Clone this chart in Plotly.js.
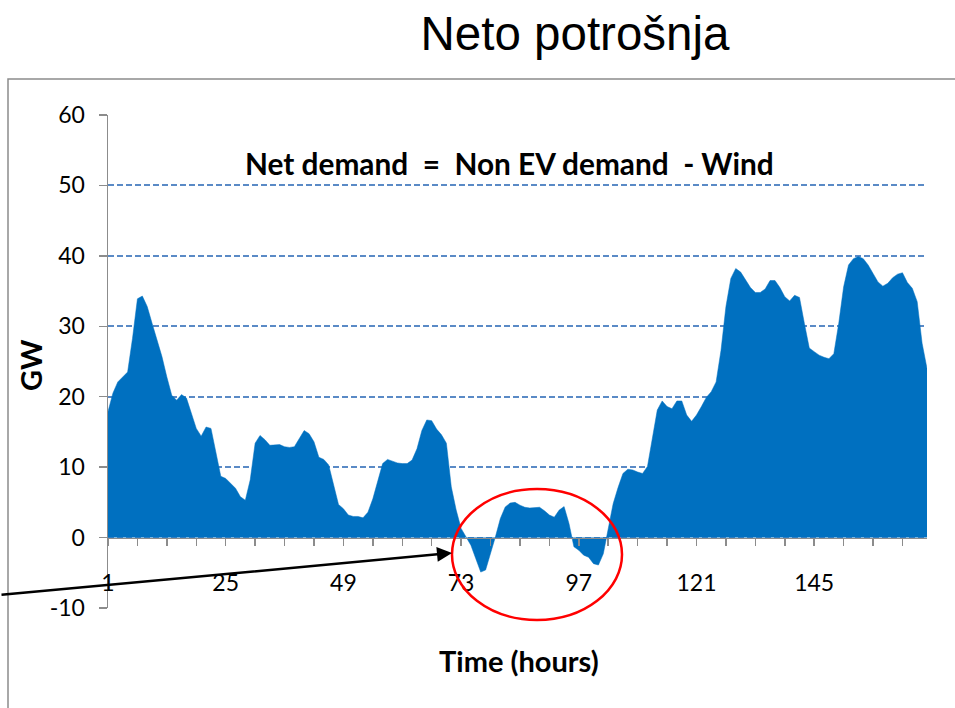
<!DOCTYPE html>
<html>
<head>
<meta charset="utf-8">
<script src="https://cdn.plot.ly/plotly-3.0.1.min.js"></script>
<style>
  html, body { margin: 0; padding: 0; background: #fff; }
  #chart { width: 955px; height: 708px; }
</style>
</head>
<body>
<div id="chart"></div>
<script>
// net demand per hour, GW
const netDemand = [
  17.9, 20.5, 22.1, 22.8, 23.5, 28.3, 33.9, 34.3, 32.8, 30.4,
  28.0, 25.7, 22.8, 20.2, 19.5, 20.3, 19.8, 17.6, 15.5, 14.4,
  15.7, 15.5, 12.0, 8.7, 8.4, 7.7, 7.0, 5.8, 5.3, 8.2,
  13.4, 14.5, 13.9, 13.1, 13.1, 13.2, 12.9, 12.8, 12.9, 14.0,
  15.2, 14.75, 13.6, 11.4, 11.1, 10.3, 7.7, 4.7, 4.1, 3.2,
  3.0, 3.0, 2.8, 3.6, 5.5, 8.1, 10.5, 11.1, 10.8, 10.6,
  10.5, 10.5, 11.0, 12.6, 15.2, 16.7, 16.6, 15.4, 14.6, 13.4,
  7.2, 3.9, 1.3, 0.0, -1.1, -3.0, -4.9, -4.6, -2.3, 0.1,
  2.7, 4.35, 4.9, 5.0, 4.6, 4.3, 4.2, 4.3, 4.3, 3.8,
  3.2, 2.9, 3.9, 4.4, 2.0, -1.3, -1.8, -2.5, -2.8, -3.7,
  -3.9, -2.3, 1.0, 4.8, 7.1, 9.1, 9.7, 9.6, 9.3, 9.1,
  10.1, 13.9, 18.1, 19.4, 18.6, 18.3, 19.4, 19.4, 17.4, 16.5,
  17.4, 18.6, 19.9, 20.7, 22.1, 26.6, 32.8, 36.8, 38.2, 37.7,
  36.6, 35.5, 34.8, 34.8, 35.3, 36.5, 36.5, 35.5, 34.2, 33.6,
  34.4, 34.1, 30.4, 26.9, 26.4, 25.9, 25.6, 25.4, 26.1, 30.4,
  35.6, 38.7, 39.6, 39.9, 39.6, 38.7, 37.5, 36.3, 35.7, 36.1,
  36.9, 37.4, 37.6, 36.2, 35.4, 33.5, 27.6, 24.0
];
const hours = netDemand.map((v, i) => i + 1);

const yTickVals = [-10, 0, 10, 20, 30, 40, 50, 60];
const yTickText = ["-10", "0", "10", "20", "30", "40", "50", "60"];

const titleText = "Neto potrošnja";
const noteText = "Net demand  =  Non EV demand  - Wind";
const xTitle = "Time (hours)";
const yTitle = "GW";

// plot box in page pixels
const ml = 108, mr = 28, mt = 115, mb = 100;
const W = 955, H = 708;
const pw = W - ml - mr, ph = H - mt - mb;
const px = (x) => (x - ml) / pw;
const py = (y) => (H - mb - y) / ph;

const gray = "#8c8c8c";
const labelFont = { family: "Lato, 'Liberation Sans', sans-serif", size: 23, color: "#000" };
const boldFont = { family: "Lato, 'Liberation Sans', sans-serif", size: 29, color: "#000", weight: "bold" };

const trace = {
  x: hours,
  y: netDemand,
  type: "scatter",
  mode: "lines",
  fill: "tozeroy",
  fillcolor: "#0070C0",
  line: { color: "#0070C0", width: 0.5 },
  hoverinfo: "skip",
};

const layout = {
  width: W,
  height: H,
  margin: { l: ml, r: mr, t: mt, b: mb },
  paper_bgcolor: "#fff",
  plot_bgcolor: "#fff",
  showlegend: false,
  title: {
    text: titleText,
    font: { family: "'Liberation Sans', Arial, sans-serif", size: 47.5, color: "#000" },
    x: 575 / W,
    xanchor: "center",
    y: 1 - 33 / H,
    yanchor: "middle",
  },
  xaxis: {
    range: [1, 168],
    anchor: "free",
    position: 10 / 70,
    tickmode: "linear",
    tick0: 1,
    dtick: 24,
    ticks: "outside",
    ticklen: 7,
    tickwidth: 1.5,
    tickcolor: gray,
    minor: { tick0: 1, dtick: 6, ticks: "outside", ticklen: 7, tickwidth: 1.5, tickcolor: gray },
    showgrid: false,
    zeroline: false,
    showline: true,
    linecolor: gray,
    linewidth: 1.5,
    tickfont: labelFont,
    ticklabelstandoff: 17,
  },
  yaxis: {
    range: [-10, 60],
    tickmode: "array",
    tickvals: yTickVals,
    ticktext: yTickText,
    ticks: "outside",
    ticklen: 8,
    tickwidth: 1.5,
    tickcolor: gray,
    showline: true,
    linecolor: gray,
    linewidth: 1.5,
    zeroline: false,
    showgrid: true,
    gridcolor: "#5A8AC6",
    gridwidth: 2,
    griddash: "6px,3px",
    tickfont: labelFont,
    ticklabelstandoff: 9,
  },
  shapes: [
    // outer frame
    {
      type: "rect", xref: "paper", yref: "paper",
      x0: px(8), x1: px(965), y0: py(720), y1: py(79),
      line: { color: gray, width: 1.5 }, layer: "below",
    },
    // red ellipse
    {
      type: "circle", xref: "paper", yref: "paper",
      x0: px(452), x1: px(622), y0: py(620), y1: py(489),
      line: { color: "#FF0000", width: 2.5 },
    },
  ],
  annotations: [
    {
      text: noteText, xref: "paper", yref: "paper",
      x: px(509), y: py(163), xanchor: "center", yanchor: "middle",
      showarrow: false, font: { ...boldFont, size: 29.8 },
    },
    {
      text: xTitle, xref: "paper", yref: "paper",
      x: px(519), y: py(660), xanchor: "center", yanchor: "middle",
      showarrow: false, font: boldFont,
    },
    {
      text: yTitle, xref: "paper", yref: "paper",
      x: px(30), y: py(365), xanchor: "center", yanchor: "middle",
      textangle: -90, showarrow: false, font: boldFont,
    },
    {
      text: "", xref: "paper", yref: "paper",
      x: px(452), y: py(553),
      ax: -452, ay: 42,
      showarrow: true, arrowhead: 2, arrowsize: 1.2, arrowwidth: 2.5,
      arrowcolor: "#000", standoff: 0,
    },
  ],
};

Plotly.newPlot("chart", [trace], layout, { displayModeBar: false, staticPlot: true });
</script>
</body>
</html>
